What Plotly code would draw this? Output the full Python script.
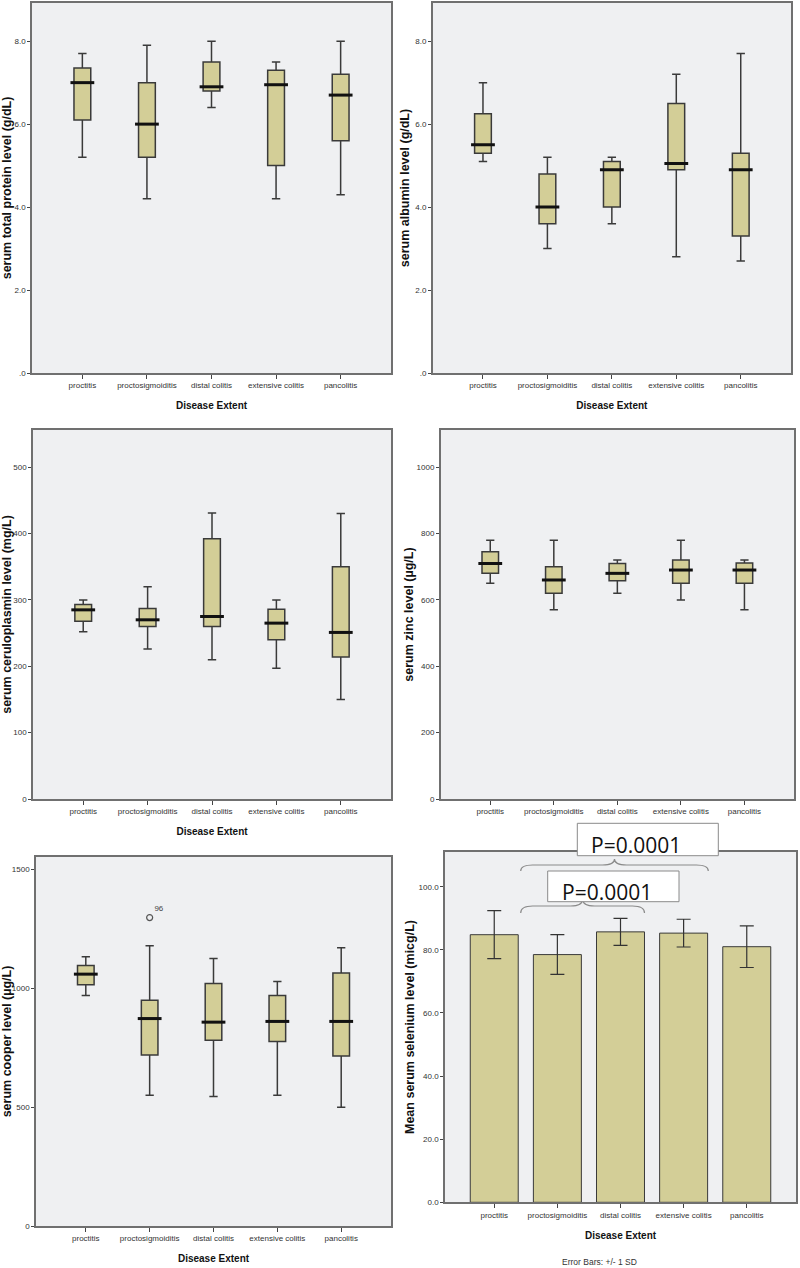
import plotly.graph_objects as go

W, H = 800, 1268

categories = ["proctitis", "proctosigmoiditis", "distal colitis", "extensive colitis", "pancolitis"]

# serum total protein (g/dL)
protein_low = [5.2, 4.2, 6.4, 4.2, 4.3]
protein_q1 = [6.1, 5.2, 6.8, 5.0, 5.6]
protein_med = [7.0, 6.0, 6.9, 6.95, 6.7]
protein_q3 = [7.35, 7.0, 7.5, 7.3, 7.2]
protein_high = [7.7, 7.9, 8.0, 7.5, 8.0]

# serum albumin (g/dL)
albumin_low = [5.1, 3.0, 3.6, 2.8, 2.7]
albumin_q1 = [5.3, 3.6, 4.0, 4.9, 3.3]
albumin_med = [5.5, 4.0, 4.9, 5.05, 4.9]
albumin_q3 = [6.25, 4.8, 5.1, 6.5, 5.3]
albumin_high = [7.0, 5.2, 5.2, 7.2, 7.7]

# serum ceruloplasmin (mg/L)
cerulo_low = [252, 226, 210, 197, 150]
cerulo_q1 = [268, 260, 260, 240, 214]
cerulo_med = [285, 270, 275, 265, 251]
cerulo_q3 = [293, 287, 392, 286, 350]
cerulo_high = [300, 320, 431, 300, 430]

# serum zinc (µg/L)
zinc_low = [650, 570, 620, 600, 570]
zinc_q1 = [680, 620, 658, 650, 650]
zinc_med = [710, 660, 680, 690, 690]
zinc_q3 = [745, 700, 710, 720, 711]
zinc_high = [780, 780, 720, 780, 720]

# serum copper (µg/L)
copper_low = [970, 550, 545, 550, 500]
copper_q1 = [1015, 720, 782, 777, 716]
copper_med = [1060, 873, 858, 861, 861]
copper_q3 = [1096, 950, 1021, 970, 1065]
copper_high = [1133, 1180, 1126, 1029, 1171]
copper_outlier_cat = ["proctosigmoiditis"]
copper_outlier_val = [1298]
copper_outlier_id = ["96"]

# serum selenium (micg/L): mean +/- 1 SD
selenium_mean = [84.8, 78.5, 85.7, 85.3, 81.0]
selenium_sd = [7.6, 6.3, 4.3, 4.4, 6.6]

p_values = ["P=0.0001", "P=0.0001"]

# ---------------- styling ----------------
FILL = "#D3CE97"
EDGE = "#3a3a3a"
BG = "#EFF0F2"
FRAME = "#707070"
NARROW = "Liberation Sans Narrow, Arial Narrow, Liberation Sans, Arial"
TICKFONT = dict(family=NARROW, size=8, color="#333333")
XTITLEFONT = dict(family="Liberation Sans, Arial", size=10, color="#111111", weight="bold")
YTITLEFONT = dict(family="Liberation Sans, Arial", size=12.5, color="#111111", weight="bold")

# panel pixel boxes: (left, top, right, bottom)
panels = [
    (32, 3, 391, 373),
    (432.7, 3, 791, 373),
    (33, 430, 391, 799),
    (440.7, 430, 794, 799),
    (36, 857, 391, 1226),
    (445, 851.7, 796, 1202.3),
]

def dom(p):
    l, t, r, b = p
    return [l / W, r / W], [1 - b / H, 1 - t / H]

fig = go.Figure()

box_sets = [
    (protein_low, protein_q1, protein_med, protein_q3, protein_high),
    (albumin_low, albumin_q1, albumin_med, albumin_q3, albumin_high),
    (cerulo_low, cerulo_q1, cerulo_med, cerulo_q3, cerulo_high),
    (zinc_low, zinc_q1, zinc_med, zinc_q3, zinc_high),
    (copper_low, copper_q1, copper_med, copper_q3, copper_high),
]

for i, (lo, q1, med, q3, hi) in enumerate(box_sets):
    xa = "x" if i == 0 else f"x{i+1}"
    ya = "y" if i == 0 else f"y{i+1}"
    fig.add_trace(go.Box(
        x=categories, q1=q1, median=med, q3=q3, lowerfence=lo, upperfence=hi,
        width=0.26, whiskerwidth=0.5, fillcolor=FILL,
        line=dict(color=EDGE, width=1.5), boxpoints=False,
        showlegend=False, xaxis=xa, yaxis=ya,
    ))
    # thick median line
    fig.add_trace(go.Scatter(
        x=categories, y=med, mode="markers",
        marker=dict(symbol="line-ew", size=17, line=dict(color="#111111", width=3)),
        showlegend=False, hoverinfo="skip", xaxis=xa, yaxis=ya,
    ))

# copper outlier
fig.add_trace(go.Scatter(
    x=copper_outlier_cat, y=copper_outlier_val, mode="markers+text",
    text=copper_outlier_id, textposition="top right",
    textfont=dict(family=NARROW, size=8, color="#444444"),
    marker=dict(symbol="circle-open", size=6, color="#555555", line=dict(width=1.2)),
    showlegend=False, xaxis="x5", yaxis="y5",
))

# selenium bars
fig.add_trace(go.Bar(
    x=categories, y=selenium_mean, width=0.76,
    marker=dict(color=FILL, line=dict(color=EDGE, width=1)),
    error_y=dict(type="data", array=selenium_sd, visible=True, color="#333333", thickness=1.2, width=7),
    showlegend=False, xaxis="x6", yaxis="y6",
))

y_ranges = [[0, 8.92], [0, 8.92], [0, 556], [0, 1112], [0, 1553], [0, 111.1]]
y_tickvals = [
    [0, 2, 4, 6, 8], [0, 2, 4, 6, 8],
    [0, 100, 200, 300, 400, 500], [0, 200, 400, 600, 800, 1000],
    [0, 500, 1000, 1500], [0, 20, 40, 60, 80, 100],
]
y_ticktext = [
    [".0", "2.0", "4.0", "6.0", "8.0"], [".0", "2.0", "4.0", "6.0", "8.0"],
    ["0", "100", "200", "300", "400", "500"], ["0", "200", "400", "600", "800", "1000"],
    ["0", "500", "1000", "1500"], ["0.0", "20.0", "40.0", "60.0", "80.0", "100.0"],
]
y_titles = [
    "serum total protein level (g/dL)",
    "serum albumin level (g/dL)",
    "serum ceruloplasmin level (mg/L)",
    "serum zinc level (µg/L)",
    "serum cooper level (µg/L)",
    "Mean serum selenium level (micg/L)",
]
x_titles = ["Disease Extent", "Disease Extent", "Disease Extent", "", "Disease Extent", "Disease Extent"]
y_standoff = [3, 3, 1, 0, 0, 1]

layout = dict(
    width=W, height=H, margin=dict(l=0, r=0, t=0, b=0),
    paper_bgcolor="white", plot_bgcolor=BG, showlegend=False,
)
for i, p in enumerate(panels):
    xd, yd = dom(p)
    xk = "xaxis" if i == 0 else f"xaxis{i+1}"
    yk = "yaxis" if i == 0 else f"yaxis{i+1}"
    ya = "y" if i == 0 else f"y{i+1}"
    xa = "x" if i == 0 else f"x{i+1}"
    layout[xk] = dict(
        domain=xd, anchor=ya, type="category", categoryorder="array", categoryarray=categories,
        range=[-0.78, 4.78], showline=True, mirror=True, linecolor=FRAME, linewidth=1.5,
        ticks="outside", ticklen=4, tickcolor="#444444", tickfont=TICKFONT, showgrid=False,
        title=dict(text=x_titles[i], font=XTITLEFONT, standoff=13),
        automargin=False, fixedrange=True,
    )
    layout[yk] = dict(
        domain=yd, anchor=xa, range=y_ranges[i], tickvals=y_tickvals[i], ticktext=y_ticktext[i],
        showline=True, mirror=True, linecolor=FRAME, linewidth=1.5,
        ticks="outside", ticklen=3, tickcolor="#444444", tickfont=TICKFONT,
        showgrid=False, zeroline=False,
        title=dict(text=y_titles[i], font=YTITLEFONT, standoff=y_standoff[i]),
        automargin=False, fixedrange=True,
    )

def px(x, y):
    return f"{x / W:.5f},{1 - y / H:.5f}"

def brace(x0, x1, yl, ym, yt, r=12):
    xc = (x0 + x1) / 2
    return (f"M{px(x0, yl)} Q{px(x0, ym)} {px(x0 + r, ym)} L{px(xc - r, ym)} "
            f"Q{px(xc, ym)} {px(xc, yt)} Q{px(xc, ym)} {px(xc + r, ym)} "
            f"L{px(x1 - r, ym)} Q{px(x1, ym)} {px(x1, yl)}")

shapes = [
    dict(type="path", xref="paper", yref="paper", path=brace(520.7, 708.3, 871, 865, 859),
         line=dict(color="#8a8a8a", width=1.2), layer="above"),
    dict(type="path", xref="paper", yref="paper", path=brace(520.7, 644.5, 913, 906, 899),
         line=dict(color="#8a8a8a", width=1.2), layer="above"),
    dict(type="rect", xref="paper", yref="paper", x0=577.3 / W, x1=718.3 / W,
         y0=1 - 855.7 / H, y1=1 - 823.3 / H, line=dict(color="#8a8a8a", width=1),
         fillcolor="white", layer="above"),
    dict(type="rect", xref="paper", yref="paper", x0=547.7 / W, x1=679 / W,
         y0=1 - 901.7 / H, y1=1 - 871 / H, line=dict(color="#8a8a8a", width=1),
         fillcolor="white", layer="above"),
]
layout["shapes"] = shapes

PFONT = dict(family="Open Sans, Lato, Arial", size=21, color="#111111")
annotations = [
    dict(text=p_values[0], xref="paper", yref="paper", x=589 / W, y=1 - 845 / H,
         xanchor="left", yanchor="middle", showarrow=False, font=PFONT),
    dict(text=p_values[1], xref="paper", yref="paper", x=559.7 / W, y=1 - 891.5 / H,
         xanchor="left", yanchor="middle", showarrow=False, font=PFONT),
    dict(text="Error Bars: +/- 1 SD", xref="paper", yref="paper", x=599 / W, y=1 - 1261.5 / H,
         xanchor="center", yanchor="middle", showarrow=False,
         font=dict(family=NARROW, size=8.5, color="#333333")),
]
layout["annotations"] = annotations

fig.update_layout(**layout)
fig.write_html("out.html", config={"displayModeBar": False},
               post_script="document.body.style.margin='0px';")
